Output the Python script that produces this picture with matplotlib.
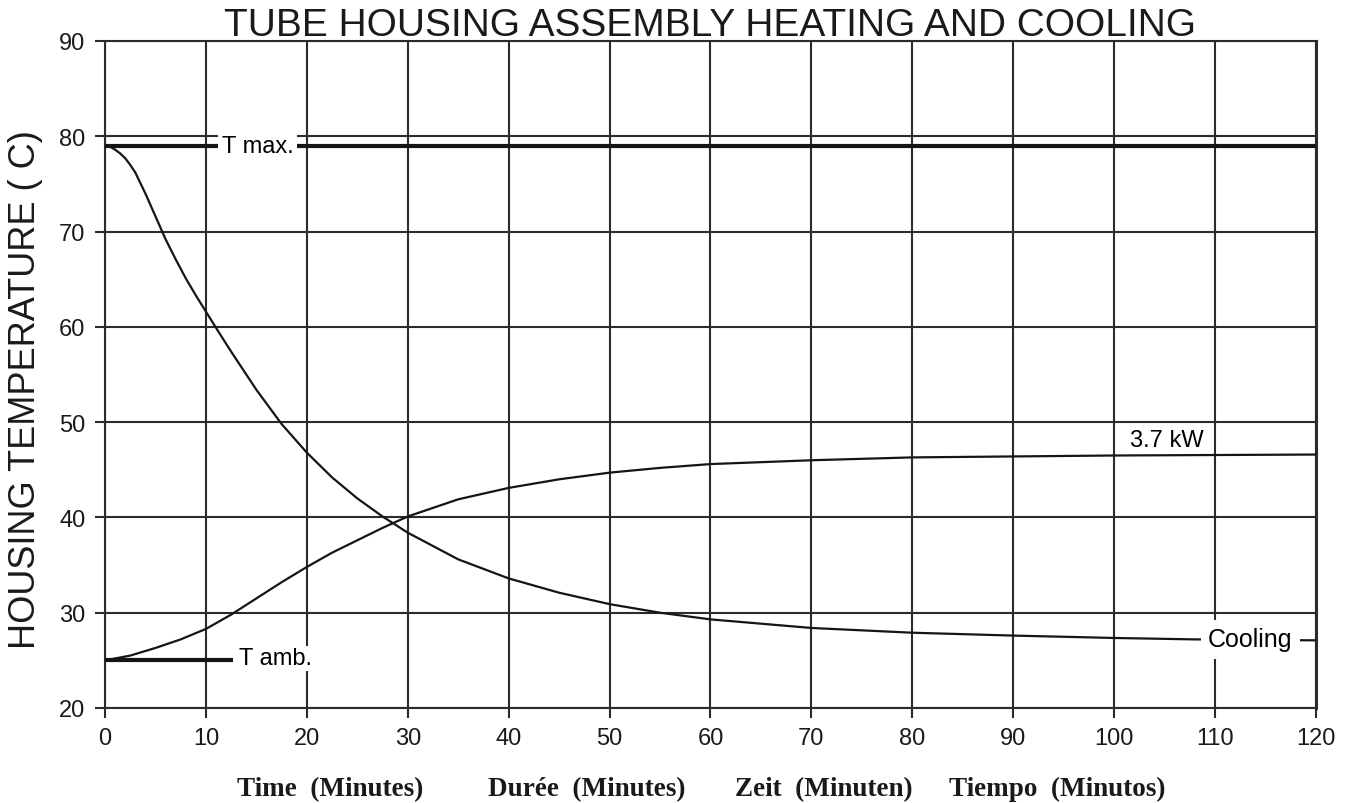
import matplotlib
matplotlib.use("Agg")
import matplotlib.pyplot as plt

plt.rcParams['font.family'] = ['Liberation Sans', 'DejaVu Sans']

# readings (minutes, deg C)
heat_t = [0, 2.5, 5, 7.5, 10, 12.5, 15, 17.5, 20, 22.5, 25, 27.5, 30, 32.5, 35, 40, 45,
          50, 55, 60, 70, 80, 90, 100, 110, 120]
heat_temp = [25.0, 25.5, 26.3, 27.2, 28.3, 29.8, 31.5, 33.2, 34.8, 36.3, 37.6, 38.9,
             40.1, 41.0, 41.9, 43.1, 44.0, 44.7, 45.2, 45.6, 46.0, 46.3, 46.4, 46.5,
             46.55, 46.6]

cool_t = [0, 0.5, 1, 1.5, 2, 2.5, 3, 4, 5, 6, 7, 8, 9, 10, 11, 12.5, 15, 17.5, 20, 22.5,
          25, 27.5, 30, 35, 40, 45, 50, 55, 60, 70, 80, 90, 100, 108, 120]
cool_temp = [79.0, 78.9, 78.6, 78.2, 77.7, 77.0, 76.2, 74.0, 71.6, 69.2, 67.1, 65.1,
             63.3, 61.6, 59.9, 57.4, 53.4, 49.8, 46.8, 44.2, 42.0, 40.1, 38.4, 35.6,
             33.6, 32.1, 30.9, 30.0, 29.3, 28.4, 27.9, 27.6, 27.35, 27.2, 27.1]

t_max = 79
t_amb = 25
t_amb_end = 12.7

x_ticks = list(range(0, 121, 10))
y_ticks = list(range(20, 91, 10))
xlabel_parts = ['Time  (Minutes)', 'Durée  (Minutes)', 'Zeit  (Minuten)', 'Tiempo  (Minutos)']
xlabel_pos = [330, 587, 824, 1057]

W, H = 1351, 804
grid_c = '#2b2b2b'
line_c = '#151515'

fig = plt.figure(figsize=(W / 100, H / 100), dpi=100)
ax = fig.add_axes([105 / W, 1 - 709 / H, (1316 - 105) / W, (709 - 42) / H])

ax.set_xlim(0, 120)
ax.set_ylim(20, 90)
ax.set_xticks(x_ticks)
ax.set_yticks(y_ticks)
ax.grid(True, color=grid_c, lw=1.5)
ax.set_axisbelow(True)
for s in ax.spines.values():
    s.set_color(grid_c)
    s.set_linewidth(1.5)
ax.spines['right'].set_linewidth(2.2)
ax.tick_params(direction='out', length=7, width=1.5, color=grid_c,
               labelsize=17, pad=7, labelcolor='#1a1a1a')

ax.plot(cool_t, cool_temp, color=line_c, lw=1.6, zorder=3)
ax.plot(heat_t, heat_temp, color=line_c, lw=1.6, zorder=3)
ax.plot([0, 120], [t_max, t_max], color=line_c, lw=3, zorder=3, solid_capstyle='butt')
ax.plot([0, t_amb_end], [t_amb, t_amb], color=line_c, lw=3, zorder=3, solid_capstyle='butt')

wbox = dict(facecolor='white', edgecolor='none', boxstyle='square,pad=0.15')
ax.text(15.1, 79, 'T max.', fontsize=17, ha='center', va='center', bbox=wbox, zorder=5)
ax.text(13.3, 25.2, 'T amb.', fontsize=17, ha='left', va='center',
        bbox=dict(facecolor='white', edgecolor='none', boxstyle='square,pad=0.05'), zorder=5)
ax.text(105.2, 48.1, '3.7 kW', fontsize=17, ha='center', va='center', zorder=5)
ax.text(113.5, 27.2, 'Cooling', fontsize=18, ha='center', va='center', zorder=5,
        bbox=dict(facecolor='white', edgecolor='none', boxstyle='square,pad=0.3'))

fig.text(710 / W, 1 - 26 / H, 'TUBE HOUSING ASSEMBLY HEATING AND COOLING',
         fontsize=28, ha='center', va='center', color='#1a1a1a')
fig.text(26 / W, 1 - 390 / H, 'HOUSING TEMPERATURE ( C)', fontsize=26,
         rotation=90, ha='center', va='center', color='#1a1a1a')
for txt, px in zip(xlabel_parts, xlabel_pos):
    fig.text(px / W, 1 - 796 / H, txt, fontsize=19.5, ha='center', va='baseline',
             family='Liberation Serif', weight='bold', color='#1a1a1a')

fig.savefig('out.png', dpi=100)
